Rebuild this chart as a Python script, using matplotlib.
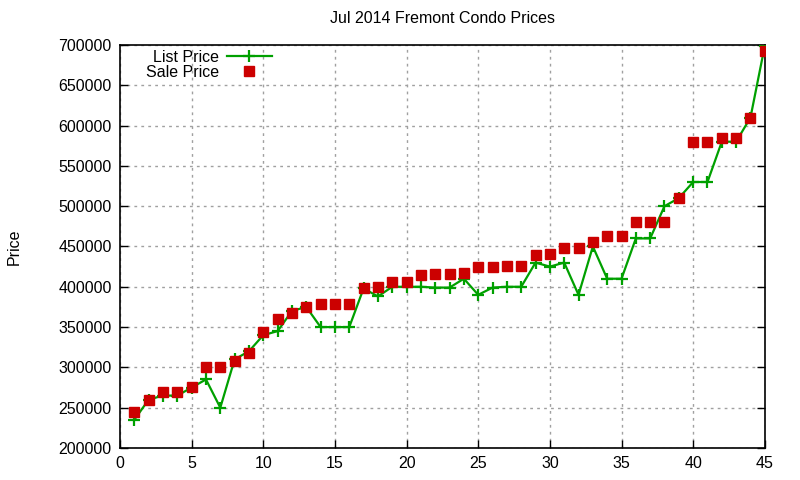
import numpy as np
import matplotlib
matplotlib.use('Agg')
import matplotlib.pyplot as plt

plt.rcParams['font.family'] = ['Liberation Sans', 'DejaVu Sans']

# listing index 1..45
idx = list(range(1, 46))

list_price = [235000, 260000, 265000, 265000, 275000, 285000, 250000, 310000, 320000, 340000,
              345000, 370000, 375000, 350000, 350000, 350000, 398000, 388000, 400000, 400000,
              400000, 399000, 399000, 410000, 390000, 399000, 400000, 400000, 430000, 425000,
              430000, 390000, 450000, 410000, 410000, 460000, 460000, 500000, 510000, 530000,
              530000, 580000, 580000, 610000, 699000]

sale_price = [245000, 260000, 270000, 270000, 276000, 300000, 300000, 308000, 318000, 344000,
              360000, 368000, 375000, 379000, 379000, 379000, 398000, 400000, 406000, 406000,
              415000, 416000, 416000, 417000, 425000, 425000, 426000, 426000, 440000, 441000,
              448000, 448000, 456000, 463000, 463000, 480000, 480000, 480000, 510000, 580000,
              580000, 585000, 585000, 610000, 693000]

xticks = [0, 5, 10, 15, 20, 25, 30, 35, 40, 45]
yticks = list(range(200000, 700001, 50000))

fig = plt.figure(figsize=(8, 4.8), dpi=100)
ax = fig.add_axes([0.15, 0.0667, 0.806, 0.8396])

ax.plot(idx, list_price, color='#00a000', lw=1.6, marker='+', ms=9, mew=1.6,
        label='List Price', zorder=3)
ax.plot(idx, sale_price, ls='none', color='#cc0000', marker='s', ms=7.5,
        label='Sale Price', zorder=4)

ax.set_xlim(0, 45)
ax.set_ylim(200000, 700000)
ax.set_xticks(xticks)
ax.set_yticks(yticks)
ax.tick_params(direction='in', length=6, width=1, labelsize=11.5, right=True,
               pad=6)
ax.grid(True, color='#a0a0a0', ls=(0, (2, 3)), lw=1)
for s in ax.spines.values():
    s.set_linewidth(1.2)

ax.set_title('Jul 2014 Fremont Condo Prices', fontsize=11.5, pad=16)
fig.text(0.018, 0.485, 'Price', rotation=90, fontsize=11.5, ha='center', va='center')

ax.legend(loc='upper left', bbox_to_anchor=(0.02, 1.02), frameon=False,
          markerfirst=False, fontsize=11.5, handlelength=2.8, handletextpad=0.5,
          labelspacing=0.0, borderpad=0.3)

fig.savefig('out.png', dpi=100)
